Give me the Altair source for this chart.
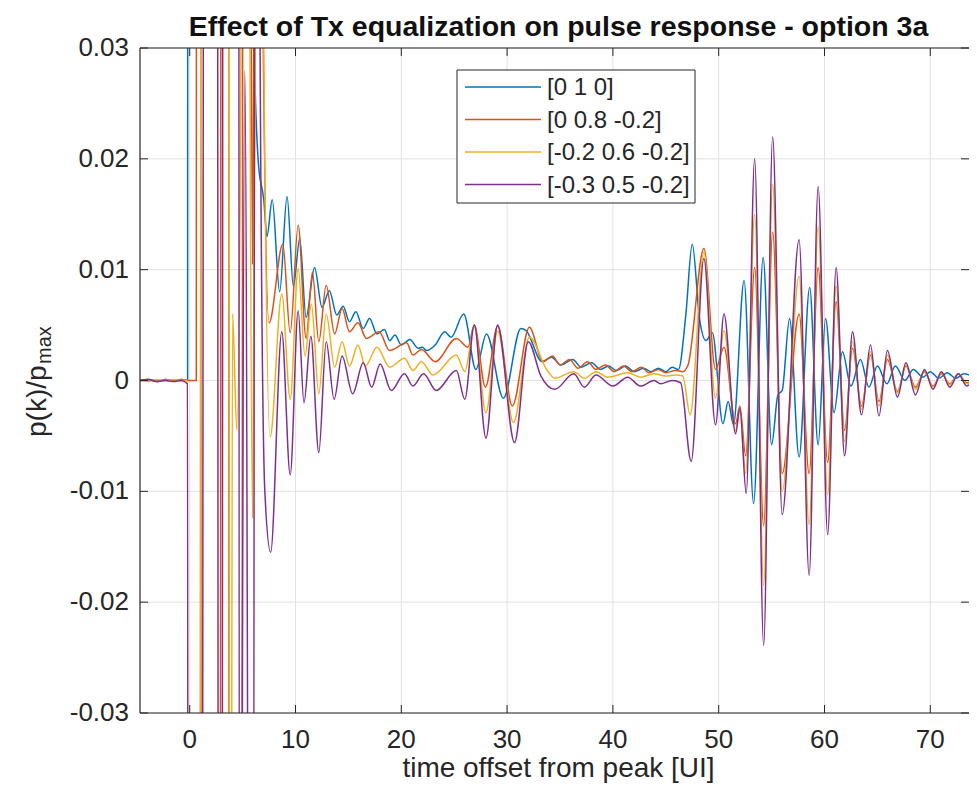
import altair as alt
import pandas as pd

# ---------------- data ----------------
SERIES = ["[0 1 0]", "[0 0.8 -0.2]", "[-0.2 0.6 -0.2]", "[-0.3 0.5 -0.2]"]
COLORS = ["#0072BD", "#D95319", "#EDB120", "#7E2F8E"]

BLUE_X = [-4.7, -3.9, -3.1, -2.3, -1.5, -0.8, -0.2, -0.1, 1.0, 3.0, 5.5, 6.1, 6.5, 7.0, 7.3, 7.8,
          8.5, 9.2, 9.8, 10.4, 11.0, 11.8, 12.5, 13.2, 13.9, 14.5, 15.1, 15.7, 16.4, 17.0, 17.7,
          18.4, 18.9, 19.4, 20.0, 20.8, 21.6, 22.0, 22.4, 23.2, 24.1, 24.7, 25.9, 27.05, 28.05,
          29.65, 31.3, 31.8, 33.3, 34.2, 35.1, 36.2, 37.0, 38.0, 38.8, 39.6, 40.3, 41.2, 42.0,
          42.9, 43.6, 44.3, 45.0, 45.6, 46.2, 46.9, 47.5, 48.2, 48.8, 49.4, 50.4, 50.9, 51.4,
          52.4, 53.3, 54.2, 55.0, 55.6, 56.0, 56.7, 57.6, 58.6, 59.4, 60.1, 60.9, 61.7, 62.5,
          63.4, 64.2, 65.0, 65.9, 66.7, 67.6, 68.4, 69.3, 70.0, 70.8, 71.6, 72.4, 73.2, 74.3]
BLUE_Y = [0.0, 0.0001, -0.0001, 0.0001, 0.0, 0.0001, 0.0, 0.5, 1.0, 0.4, 0.1, 0.03, 0.0195,
          0.0163, 0.013, 0.0163, 0.008, 0.0166, 0.0085, 0.0128, 0.0057, 0.0102, 0.0066, 0.0081,
          0.0059, 0.0067, 0.0053, 0.0062, 0.0047, 0.0056, 0.0042, 0.0046, 0.0036, 0.0041, 0.0032,
          0.0037, 0.0029, 0.003, 0.0027, 0.0032, 0.0044, 0.0039, 0.006, 0.001, 0.0042, -0.0016,
          0.0047, 0.0045, 0.0017, 0.0021, 0.0014, 0.0019, 0.0012, 0.0016, 0.001, 0.0013, 0.0009,
          0.0013, 0.0008, 0.0011, 0.0008, 0.0011, 0.0008, 0.0012, 0.001, 0.006, 0.0123, 0.0055,
          0.0036, 0.0043, -0.0039, -0.0019, -0.004, 0.009, -0.0111, 0.0111, -0.0058, -0.0013,
          -0.0009, 0.0056, -0.0069, 0.0084, -0.0058, 0.0056, -0.0029, 0.0026, -0.0005, 0.0019,
          -0.0006, 0.0013, -0.0003, 0.0013, 0.0, 0.001, 0.0003, 0.0008, 0.0002, 0.0007, 0.0002,
          0.0006, 0.0002]

ORANGE_X = [-4.7, -3.9, -3.1, -2.3, -1.5, -0.8, 0.0, 0.62, 0.78, 0.9, 1.2, 2.5, 3.35, 3.45, 3.95,
            4.6, 5.4, 5.8, 5.95, 6.1, 6.5, 6.9, 7.5, 8.8, 9.5, 10.25, 11.0, 11.6, 12.2, 12.9,
            13.7, 14.4, 15.1, 15.9, 16.7, 17.9, 18.9, 20.5, 21.1, 21.9, 23.2, 25.2, 26.3, 26.9,
            27.95, 29.1, 30.5, 32.1, 33.4, 34.3, 35.0, 35.9, 36.7, 37.6, 38.4, 39.3, 40.1, 41.0,
            41.8, 42.7, 43.4, 44.3, 45.0, 45.9, 46.6, 47.1, 48.6, 49.7, 50.5, 51.6, 52.0, 52.55,
            53.4, 54.25, 55.1, 56.0, 57.6, 58.55, 59.4, 60.3, 61.1, 61.9, 62.65, 63.5, 64.35,
            65.15, 65.95, 66.9, 67.7, 68.6, 69.45, 70.25, 71.05, 71.85, 72.65, 73.45, 74.3]
ORANGE_Y = [0.0, 0.0001, -0.0001, 0.0001, 0.0, 0.0001, 0.0, 0.0, 0.5, 0.5, -0.5, -0.5, 0.5, 0.5,
            -0.5, -0.4, 0.4, 0.04, 0.0105, 0.04, 0.4, 0.035, 0.0052, 0.0123, 0.0043, 0.014, 0.0038,
            0.0098, 0.0035, 0.0086, 0.0042, 0.0065, 0.0044, 0.0052, 0.0038, 0.0044, 0.0027,
            0.0034, 0.0023, 0.0028, 0.0017, 0.0038, 0.003, 0.005, -0.0006, 0.0049, -0.0023,
            0.0048, 0.0017, 0.0022, 0.0014, 0.0019, 0.0011, 0.0017, 0.001, 0.0014, 0.0008, 0.0013,
            0.0008, 0.0012, 0.0007, 0.001, 0.0007, 0.0009, 0.0008, 0.0014, 0.0119, 0.001, 0.003,
            -0.0039, -0.0023, -0.0068, 0.0102, -0.0131, 0.0134, -0.0084, 0.006, -0.0084, 0.0102,
            -0.0074, 0.0071, -0.0045, 0.0029, -0.0023, 0.0023, -0.0019, 0.0019, -0.001, 0.0013,
            -0.0006, 0.0008, -0.0005, 0.0006, -0.0003, 0.0006, -0.0002, 0.0004]

YELLOW_X = [-4.7, -3.9, -3.1, -2.3, -1.5, -0.8, -0.22, 0.0, 0.6, 1.6, 3.3, 3.85, 4.05, 4.45, 4.85,
            5.1, 5.45, 5.7, 5.95, 6.2, 6.45, 6.7, 7.0, 7.6, 8.7, 9.5, 10.25, 10.9, 11.5, 12.2,
            12.9, 13.7, 14.4, 15.1, 15.9, 16.6, 17.7, 18.9, 20.3, 21.1, 21.9, 23.0, 25.2, 26.0,
            26.9, 28.0, 29.1, 30.6, 32.1, 33.8, 34.5, 36.3, 37.3, 38.4, 39.5, 41.4, 42.6, 43.9,
            45.0, 46.0, 46.6, 47.3, 48.6, 49.7, 50.5, 51.6, 52.0, 52.55, 53.4, 54.25, 55.1, 56.0,
            57.6, 58.55, 59.4, 60.3, 61.1, 61.9, 62.65, 63.5, 64.35, 65.15, 65.95, 66.9, 67.7,
            68.6, 69.45, 70.25, 71.05, 71.85, 72.65, 73.45, 74.3]
YELLOW_Y = [0.0, -0.0001, 0.0001, 0.0, 0.0001, 0.0, 0.0, -0.3, -0.3, 0.5, 0.5, -0.1, 0.006,
            -0.0045, 0.03, 0.3, 0.3, 0.03, -0.0124, 0.03, 0.3, 0.3, 0.03, -0.0051, 0.0078,
            -0.0017, 0.0101, 0.0022, 0.0069, -0.0012, 0.006, 0.0012, 0.0035, 0.0013, 0.0032,
            0.0013, 0.003, 0.0012, 0.002, 0.0009, 0.0017, 0.0005, 0.0023, 0.0008, 0.0048, -0.0029,
            0.0045, -0.0038, 0.0039, 0.0009, 0.0002, 0.0008, 0.0002, 0.0008, 0.0003, 0.0007,
            0.0003, 0.0006, 0.0004, 0.0005, 0.0004, -0.0031, 0.0116, -0.0016, 0.0045, -0.0045,
            -0.0027, -0.0084, 0.015, -0.0185, 0.0177, -0.01, 0.0094, -0.013, 0.0139, -0.0103,
            0.0085, -0.0055, 0.0035, -0.0026, 0.0026, -0.0023, 0.0023, -0.0011, 0.0014, -0.0008,
            0.0009, -0.0006, 0.0007, -0.0004, 0.0006, -0.0003, 0.0004]

PURPLE_X = [-4.7, -3.9, -3.1, -2.3, -1.5, -0.8, -0.22, 0.0, 0.7, 1.9, 2.4, 2.9, 3.35, 4.5, 4.72,
            5.2, 5.9, 6.4, 6.65, 7.1, 7.65, 8.7, 9.5, 10.25, 10.8, 11.45, 12.2, 12.9, 13.65, 14.4,
            15.4, 16.4, 17.2, 18.0, 19.05, 20.3, 21.1, 22.1, 23.3, 25.2, 26.0, 26.9, 28.0, 29.1,
            30.7, 32.0, 33.2, 34.5, 36.3, 37.3, 38.4, 40.0, 41.4, 42.6, 43.9, 44.5, 45.6, 46.4,
            47.4, 48.6, 49.7, 50.5, 51.6, 52.0, 52.6, 53.4, 54.25, 55.1, 56.0, 57.6, 58.55, 59.4,
            60.3, 61.1, 61.9, 62.65, 63.5, 64.35, 65.15, 65.95, 66.9, 67.7, 68.6, 69.45, 70.25,
            71.05, 71.85, 72.65, 73.45, 74.3]
PURPLE_Y = [0.0, 0.0001, -0.0001, 0.0, -0.0001, 0.0, -0.0003, -0.4, -0.4, 0.5, 0.4, -0.3, 0.4,
            0.4, -0.1, 0.028, -0.15, 0.3, 0.03, -0.01, -0.0155, 0.0044, -0.0085, 0.0063, -0.002,
            0.004, -0.0065, 0.0035, -0.0017, 0.0022, -0.0012, 0.0016, -0.0006, 0.0015, -0.0009,
            0.0006, -0.0005, 0.0006, -0.0009, 0.0009, -0.0017, 0.005, -0.0052, 0.005, -0.0056,
            0.0035, 0.0004, -0.0008, 0.0006, -0.0006, 0.0005, -0.0005, 0.0003, -0.0005, 0.0,
            -0.0003, 0.0, -0.0002, -0.0073, 0.011, -0.004, 0.006, -0.0048, -0.0025, -0.0102, 0.02,
            -0.0239, 0.022, -0.0121, 0.0127, -0.0176, 0.0175, -0.0139, 0.0102, -0.0068, 0.0044,
            -0.0031, 0.0032, -0.0032, 0.0027, -0.0015, 0.0016, -0.0013, 0.001, -0.0008, 0.0008,
            -0.0006, 0.0006, -0.0005, 0.0005]

X_TICKS = [0, 10, 20, 30, 40, 50, 60, 70]
X_TICK_LABELS = ["0", "10", "20", "30", "40", "50", "60", "70"]
Y_TICKS = [-0.03, -0.02, -0.01, 0.0, 0.01, 0.02, 0.03]
Y_TICK_LABELS = ["-0.03", "-0.02", "-0.01", "0", "0.01", "0.02", "0.03"]

TITLE = "Effect of Tx equalization on pulse response - option 3a"
X_TITLE = "time offset from peak [UI]"

# ---------------- layout / style ----------------
W, H = 829, 665
X_DOMAIN = [-4.7, 73.66]
FONT = "Liberation Sans"
INK = "#262626"
GRID = "#e1e1e1"
TICK_FS = 26
LABEL_FS = 28

frames = []
for name, xs, ys in zip(SERIES, [BLUE_X, ORANGE_X, YELLOW_X, PURPLE_X],
                        [BLUE_Y, ORANGE_Y, YELLOW_Y, PURPLE_Y]):
    frames.append(pd.DataFrame({"t": xs, "p": ys, "series": name,
                                "k": list(range(len(xs)))}))
df = pd.concat(frames, ignore_index=True)

xscale = alt.Scale(domain=X_DOMAIN, nice=False, zero=False)
yscale = alt.Scale(domain=[-0.03, 0.03], nice=False, zero=False)

xt = pd.DataFrame({"t": X_TICKS, "lab": X_TICK_LABELS})
yt = pd.DataFrame({"p": Y_TICKS, "lab": Y_TICK_LABELS})
one = pd.DataFrame({"z": [0]})


def X(field="t"):
    return alt.X(f"{field}:Q", scale=xscale, axis=None)


def Y(field="p"):
    return alt.Y(f"{field}:Q", scale=yscale, axis=None)


# grid (behind the curves)
grid_x = alt.Chart(xt).mark_rule(color=GRID, strokeWidth=1).encode(
    x=X(), y=alt.value(0), y2=alt.value(H))
grid_y = alt.Chart(yt).mark_rule(color=GRID, strokeWidth=1).encode(
    y=Y(), x=alt.value(0), x2=alt.value(W))

lines = alt.Chart(df).mark_line(clip=True, interpolate="monotone", strokeWidth=1.5).encode(
    x=X(), y=Y(),
    color=alt.Color("series:N", scale=alt.Scale(domain=SERIES, range=COLORS), legend=None),
    order=alt.Order("k:Q"),
)

# frame lines and inward ticks
left_line = alt.Chart(one).mark_rule(color=INK, strokeWidth=1.2).encode(
    x=alt.value(0), y=alt.value(0), y2=alt.value(H))
bottom_line = alt.Chart(one).mark_rule(color=INK, strokeWidth=1.2).encode(
    x=alt.value(0), x2=alt.value(W), y=alt.value(H))
top_line = alt.Chart(one).mark_rule(color=INK, strokeWidth=1.2).encode(
    x=alt.value(0), x2=alt.value(W), y=alt.value(0))
tick_b = alt.Chart(xt).mark_rule(color=INK, strokeWidth=1).encode(
    x=X(), y=alt.value(H), y2=alt.value(H - 8))
tick_t = alt.Chart(xt).mark_rule(color=INK, strokeWidth=1).encode(
    x=X(), y=alt.value(0), y2=alt.value(8))
tick_l = alt.Chart(yt).mark_rule(color=INK, strokeWidth=1).encode(
    y=Y(), x=alt.value(0), x2=alt.value(8))
tick_r = alt.Chart(yt).mark_rule(color=INK, strokeWidth=1).encode(
    y=Y(), x=alt.value(W), x2=alt.value(W - 8))

# tick labels
xlabels = alt.Chart(xt).mark_text(
    font=FONT, fontSize=TICK_FS, color=INK, align="center", baseline="middle").encode(
    x=X(), y=alt.value(H + 27), text="lab:N")
ylabels = alt.Chart(yt).mark_text(
    font=FONT, fontSize=TICK_FS, color=INK, align="right", baseline="middle").encode(
    y=Y(), x=alt.value(-11), text="lab:N")

# axis titles and chart title
xtitle = alt.Chart(one).mark_text(
    text=X_TITLE, font=FONT, fontSize=LABEL_FS, color=INK, align="center",
    baseline="alphabetic").encode(x=alt.value(W / 2 + 4), y=alt.value(H + 64))
ylab_main = alt.Chart(one).mark_text(
    text="p(k)/p", angle=270, align="left", baseline="middle", font=FONT, fontSize=LABEL_FS,
    color=INK).encode(x=alt.value(-102), y=alt.value(389))
ylab_sub = alt.Chart(one).mark_text(
    text="max", angle=270, align="left", baseline="middle", font=FONT, fontSize=20,
    color=INK).encode(x=alt.value(-95), y=alt.value(316))
title = alt.Chart(one).mark_text(
    text=TITLE, font=FONT, fontSize=28.5, fontWeight="bold", color="#111111",
    align="center", baseline="alphabetic").encode(x=alt.value(W / 2 + 4), y=alt.value(-12))

# legend
LEG_X0, LEG_X1, LEG_Y0, LEG_Y1 = 317, 555, 22, 155
legend_layers = [alt.Chart(one).mark_rect(fill="white", stroke=INK, strokeWidth=1).encode(
    x=alt.value(LEG_X0), x2=alt.value(LEG_X1), y=alt.value(LEG_Y0), y2=alt.value(LEG_Y1))]
for i, (name, col) in enumerate(zip(SERIES, COLORS)):
    yy = 39 + i * 32.5
    legend_layers.append(alt.Chart(one).mark_rule(color=col, strokeWidth=1.5).encode(
        x=alt.value(325), x2=alt.value(401), y=alt.value(yy)))
    legend_layers.append(alt.Chart(one).mark_text(
        text=name, align="left", baseline="middle", font=FONT, fontSize=24, color=INK).encode(
        x=alt.value(407), y=alt.value(yy + 1)))

chart = alt.layer(
    grid_x, grid_y, lines, left_line, bottom_line, top_line, tick_b, tick_t, tick_l, tick_r,
    xlabels, ylabels, xtitle, ylab_main, ylab_sub, title, *legend_layers
).properties(
    width=W, height=H,
    padding={"left": 132, "top": 40, "right": 0, "bottom": 70},
    autosize=alt.AutoSizeParams(type="none"),
    background="white",
).configure_view(stroke=None)

chart.save("out.html", embed_options={"renderer": "svg", "actions": False})
